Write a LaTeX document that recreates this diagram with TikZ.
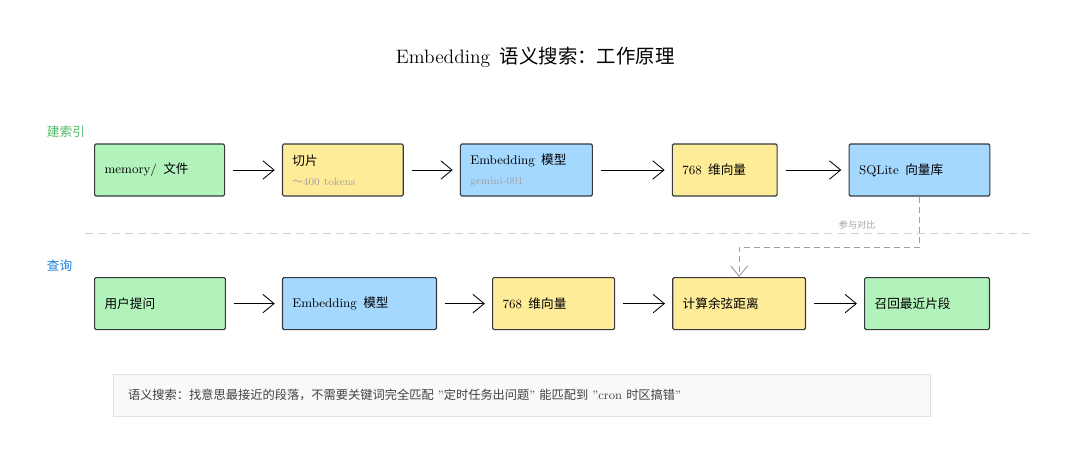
\documentclass[tikz,border=0pt]{standalone}
\usepackage{fontspec}
\newfontfamily\cjk{Noto Sans CJK SC}
\usepackage{tikz}
\usetikzlibrary{arrows.meta,positioning}

\definecolor{boxgreen}{HTML}{B2F2BB}
\definecolor{boxyellow}{HTML}{FFEC99}
\definecolor{boxblue}{HTML}{A5D8FF}
\definecolor{boxline}{HTML}{343A40}
\definecolor{subgray}{HTML}{A0A0A0}
\definecolor{idxgreen}{HTML}{4CB862}
\definecolor{qryblue}{HTML}{1C7ED6}
\definecolor{notefill}{HTML}{F8F9FA}
\definecolor{noteline}{HTML}{DEE2E6}
\newcommand{\subtxt}[1]{{\color{subgray}\fontsize{7.5}{9}\selectfont #1}}

\begin{document}
\begin{tikzpicture}[
    node distance=1.4cm,
    stage/.style={rectangle, draw=boxline, line width=0.8pt, rounded corners=1pt, minimum height=1.3cm, inner xsep=0.25cm, text width=#1, align=left, font=\fontsize{9}{14}\selectfont},
    gstage/.style={stage=#1, fill=boxgreen},
    ystage/.style={stage=#1, fill=boxyellow},
    bstage/.style={stage=#1, fill=boxblue},
    arr/.style={-{Straight Barb[length=2.8mm,width=4.6mm]}, line width=0.6pt, shorten <=0.2cm, shorten >=0.18cm},
    cmp/.style={-{Straight Barb[length=2.6mm,width=4.2mm]}, draw=gray!75, line width=0.7pt, dash pattern=on 0.15cm off 0.1cm},
]
\useasboundingbox (0,0) rectangle (27,-11.6);

% Title
\node (title) at (13.38,-1.43) {\fontsize{13.8}{16}\selectfont Embedding\hspace{0.5em}{\cjk 语义搜索：工作原理}};

% Index row
\node[anchor=west, text=idxgreen, font=\fontsize{9}{11}\selectfont\cjk] (idxlbl) at (1.05,-3.28) {建索引};
\node[gstage=2.75cm, anchor=west] (mem) at (2.35,-4.25) {memory/\hspace{0.5em}{\cjk 文件}};
\node[ystage=2.52cm, right=1.42cm of mem] (chunk) {{\cjk 切片}\\\subtxt{{\cjk ～}400\hspace{0.4em}tokens}};
\node[bstage=2.8cm, right=1.4cm of chunk] (embA) {Embedding\hspace{0.5em}{\cjk 模型}\\\subtxt{gemini-001}};
\node[ystage=2.12cm, right=1.97cm of embA] (vecA) {768\hspace{0.5em}{\cjk 维向量}};
\node[bstage=3.02cm, right=1.77cm of vecA] (sql) {SQLite\hspace{0.5em}{\cjk 向量库}};

% Separator
\draw[gray!35, line width=0.8pt, dash pattern=on 0.2cm off 0.13cm] (2.13,-5.83) -- (25.88,-5.83);

% Query row
\node[anchor=west, text=qryblue, font=\fontsize{9}{11}\selectfont\cjk] (qrylbl) at (1.05,-6.65) {查询};
\node[gstage=2.77cm, anchor=west] (ask) at (2.35,-7.59) {{\cjk 用户提问}};
\node[bstage=3.35cm, right=1.4cm of ask] (embB) {Embedding\hspace{0.5em}{\cjk 模型}};
\node[ystage=2.55cm, right=1.375cm of embB] (vecB) {768\hspace{0.5em}{\cjk 维向量}};
\node[ystage=2.82cm, right=1.425cm of vecB] (cos) {{\cjk 计算余弦距离}};
\node[gstage=2.62cm, right=1.45cm of cos] (hit) {{\cjk 召回最近片段}};

% Note
\node[draw=noteline, fill=notefill, line width=0.6pt, minimum width=20.42cm, minimum height=1.05cm, inner xsep=0.35cm, text width=19.7cm, align=left, anchor=north west, text=black!75, font=\fontsize{8.7}{10}\selectfont] (note) at (2.83,-9.35)
  {{\cjk 语义搜索：找意思最接近的段落，不需要关键词完全匹配} "{\cjk 定时任务出问题}" {\cjk 能匹配到} "cron {\cjk 时区搞错}"};

% Arrows
\draw[arr] (mem) -- (chunk);
\draw[arr] (chunk) -- (embA);
\draw[arr] (embA) -- (vecA);
\draw[arr] (vecA) -- (sql);
\draw[arr] (ask) -- (embB);
\draw[arr] (embB) -- (vecB);
\draw[arr] (vecB) -- (cos);
\draw[arr] (cos) -- (hit);
\draw[cmp] (sql.south) |- ([yshift=0.75cm]cos.north) -- (cos.north);
\node[text=subgray, font=\fontsize{6.5}{8}\selectfont\cjk] (cmplbl) at (21.43,-5.63) {参与对比};
\end{tikzpicture}
\end{document}
